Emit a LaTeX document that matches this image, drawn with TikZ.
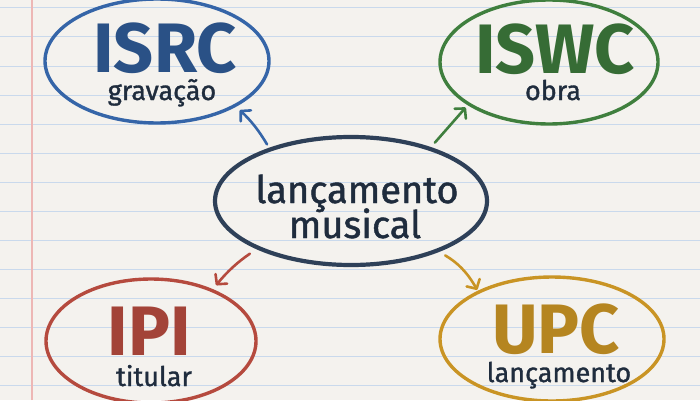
\documentclass[tikz,border=0pt]{standalone}
\usepackage{fontspec}
\setmainfont{Fira Sans}
\newfontfamily\handfont[FakeBold=1.2]{Fira Sans}
\usepackage{tikz}
\usetikzlibrary{shapes.geometric,arrows.meta}
\usepackage{xcolor}

\definecolor{paper}{HTML}{F4F2EE}
\definecolor{rule}{HTML}{C9D9EC}
\definecolor{margin}{HTML}{EDB7B5}
\definecolor{ink}{HTML}{1F2C3D}
\definecolor{navy}{HTML}{2E4058}
\definecolor{isrcblue}{HTML}{3565A8}
\definecolor{iswcgreen}{HTML}{3F7F3E}
\definecolor{ipired}{HTML}{B54A3E}
\definecolor{upcgold}{HTML}{C99424}

\tikzset{
  bubble/.style={ellipse,inner sep=0pt,line width=3.4pt},
  tag/.style={anchor=base,inner sep=0pt,font=\fontsize{70}{70}\selectfont\bfseries},
  sub/.style={anchor=base,inner sep=0pt,text=ink,font=\handfont\fontsize{27}{27}\selectfont},
  big/.style={anchor=base,inner sep=0pt,text=ink,font=\handfont\fontsize{38}{38}\selectfont},
  link/.style={line width=2.6pt,line cap=round,
    -{Straight Barb[length=7pt,width=15pt,round]}}
}

\begin{document}
\begin{tikzpicture}[x=1pt,y=1pt]
  \useasboundingbox (0,0) rectangle (700,400);
  \fill[paper] (0,0) rectangle (700,400);
  % ruled paper
  \foreach \k in {0,...,13}
    \draw[rule,line width=1pt] (0,392-29*\k) -- (700,392-29*\k);
  \draw[margin,line width=1.3pt] (32,0) -- (32,400);

  % centre
  \node[bubble,draw=navy,line width=4.2pt,minimum width=272pt,minimum height=128pt] (M) at (351,199) {};
  \node[big] (Ma) at ([xshift=6pt,yshift=-2pt]M.center) {lançamento};
  \node[big] (Mb) at ([xshift=4pt,yshift=-37pt]M.center) {musical};

  % identifiers
  \node[bubble,draw=isrcblue,minimum width=224pt,minimum height=124pt] (ISRC) at (157,339) {};
  \node[tag,text=isrcblue!80!black] (ISRCt) at ([xshift=8pt,yshift=-11pt]ISRC.center) {ISRC};
  \node[sub] (ISRCs) at ([xshift=5pt,yshift=-39pt]ISRC.center) {gravação};

  \node[bubble,draw=iswcgreen,minimum width=218pt,minimum height=124pt] (ISWC) at (549,338) {};
  \node[tag,text=iswcgreen!85!black] (ISWCt) at ([xshift=6pt,yshift=-11pt]ISWC.center) {ISWC};
  \node[sub] (ISWCs) at ([xshift=4pt,yshift=-38pt]ISWC.center) {obra};

  \node[bubble,draw=ipired,minimum width=210pt,minimum height=124pt] (IPI) at (151,59) {};
  \node[tag,text=ipired!90!black] (IPIt) at ([xshift=-2pt,yshift=-14pt]IPI.center) {IPI};
  \node[sub] (IPIs) at ([xshift=3pt,yshift=-45pt]IPI.center) {titular};

  \node[bubble,draw=upcgold,minimum width=224pt,minimum height=124pt] (UPC) at (552,61) {};
  \node[tag,text=upcgold!90!black] (UPCt) at ([xshift=4pt,yshift=-14pt]UPC.center) {UPC};
  \node[sub] (UPCs) at ([xshift=7pt,yshift=-43pt]UPC.center) {lançamento};

  % arrows out of the centre
  \draw[link,isrcblue,shorten <=4pt,shorten >=5pt] (M.147) to[bend right=8] (ISRC.330);
  \draw[link,iswcgreen,shorten <=6pt,shorten >=3pt] (M.34) -- (ISWC.208);
  \draw[link,ipired,shorten <=8pt,shorten >=5pt] (M.207) to[bend right=8] (IPI.40);
  \draw[link,upcgold,shorten <=7pt,shorten >=1pt] (M.330) to[bend left=15] (UPC.147);
\end{tikzpicture}
\end{document}
